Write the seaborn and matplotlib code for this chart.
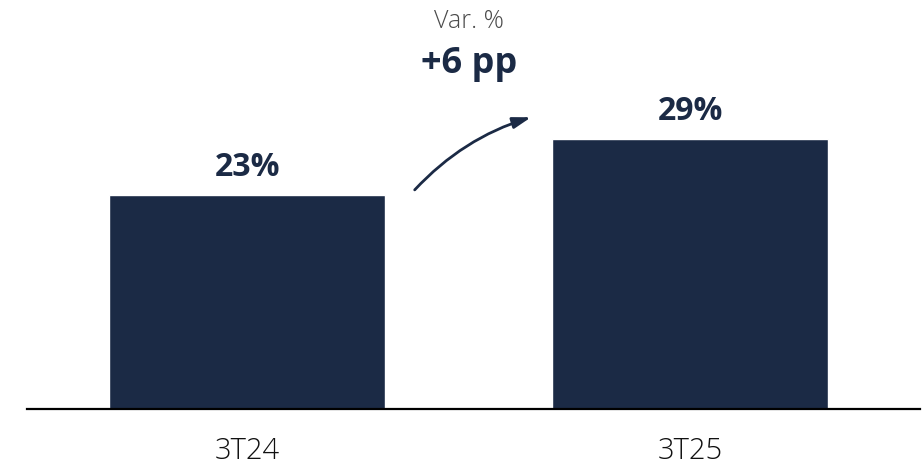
import matplotlib
matplotlib.use("Agg")
import matplotlib.pyplot as plt
import seaborn as sns
import pandas as pd

# data
periods = ['3T24', '3T25']
values = [23, 29]
var_title = 'Var. %'
var_text = '+6 pp'

navy = '#1b2a45'

sns.set_theme(style='white')
plt.rcParams['font.family'] = ['Open Sans', 'DejaVu Sans']

df = pd.DataFrame({'period': periods, 'value': values})

fig = plt.figure(figsize=(9.23, 4.68), dpi=100)
ax = fig.add_axes([27 / 923, 59 / 468, 893 / 923, 409 / 468])

sns.barplot(data=df, x='period', y='value', color=navy, saturation=1,
            width=0.623, ax=ax)

ax.set_xlim(-0.497, 1.519)
ax.set_ylim(0, 43.9)
ax.set_xlabel('')
ax.set_ylabel('')
ax.set_yticks([])
for s in ['top', 'right', 'left']:
    ax.spines[s].set_visible(False)
ax.spines['bottom'].set_color('black')
ax.spines['bottom'].set_linewidth(1.6)
ax.tick_params(axis='x', length=0, pad=20, labelsize=21, labelcolor='#111111')
for lbl in ax.get_xticklabels():
    lbl.set_fontweight('light')

# value labels
for i, v in enumerate(values):
    ax.text(i, v + 1.2, f'{v}%', ha='center', va='bottom', fontsize=23,
            fontweight='bold', color=navy)

# variation text + arrow
ax.text(0.5, 41.6, var_title, ha='center', va='center', fontsize=18,
        color='#4a4a4a', fontweight='light')
ax.text(0.5, 37.0, var_text, ha='center', va='center', fontsize=26,
        fontweight='bold', color=navy)
ax.annotate('', xy=(0.647, 31.4), xytext=(0.374, 23.3),
            arrowprops=dict(arrowstyle='-|>,head_length=0.9,head_width=0.28',
                            color=navy, lw=2, connectionstyle='arc3,rad=-0.14'))

fig.savefig('out.png', dpi=100)
